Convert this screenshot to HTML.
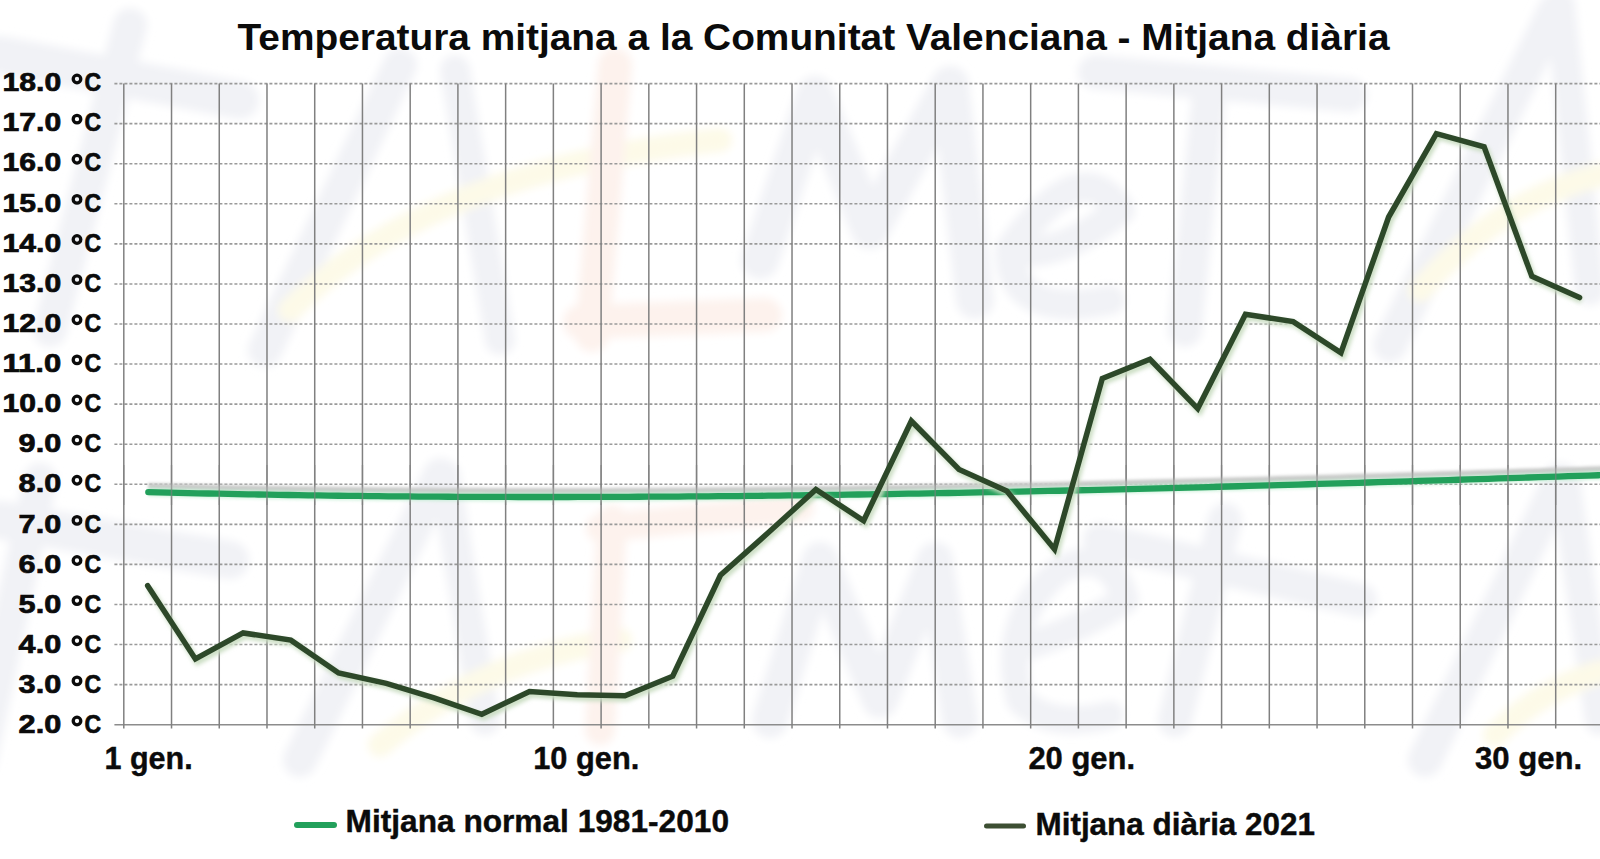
<!DOCTYPE html><html><head><meta charset="utf-8"><style>html,body{margin:0;padding:0;background:#fff;}svg{display:block;}text{font-family:"Liberation Sans",sans-serif;font-weight:bold;fill:#0b0b0b;}</style></head><body>
<svg width="1600" height="859" viewBox="0 0 1600 859">
<defs><filter id="wblur" filterUnits="userSpaceOnUse" x="-50" y="-50" width="1700" height="959"><feGaussianBlur stdDeviation="4"/></filter><filter id="blur2" filterUnits="userSpaceOnUse" x="-50" y="-50" width="1700" height="959"><feGaussianBlur stdDeviation="2"/></filter><filter id="blur1" filterUnits="userSpaceOnUse" x="-50" y="-50" width="1700" height="959"><feGaussianBlur stdDeviation="1.5"/></filter></defs>
<rect width="1600" height="859" fill="#fff"/>
<g filter="url(#wblur)" stroke-linecap="round" stroke-linejoin="round" fill="none">
<path d="M130,25 L50,330" stroke="#f1f2f6" stroke-width="34"/>
<path d="M0,55 L240,100" stroke="#f1f2f6" stroke-width="38"/>
<path d="M265,350 L400,65" stroke="#f1f2f6" stroke-width="34"/>
<path d="M455,70 L500,340" stroke="#f1f2f6" stroke-width="30"/>
<path d="M290,310 Q430,170 720,140" stroke="#fdfae8" stroke-width="24"/>
<path d="M615,65 L592,335" stroke="#fdf2ed" stroke-width="34"/>
<path d="M580,322 L765,315" stroke="#fdf2ed" stroke-width="34"/>
<path d="M760,260 L815,95 L870,230 L950,85 L975,300" stroke="#f1f2f6" stroke-width="38"/>
<path d="M1010,250 Q1080,150 1120,210 Q1060,260 1010,250 Q1010,320 1110,300" stroke="#f1f2f6" stroke-width="30"/>
<path d="M1095,72 L1350,95" stroke="#f1f2f6" stroke-width="34"/>
<path d="M1210,85 L1185,330" stroke="#f1f2f6" stroke-width="34"/>
<path d="M1390,345 L1555,10" stroke="#f1f2f6" stroke-width="34"/>
<path d="M1560,5 L1590,290" stroke="#f1f2f6" stroke-width="30"/>
<path d="M1420,290 Q1500,200 1600,175" stroke="#fdfae8" stroke-width="24"/>
<path d="M40,480 L-20,760" stroke="#f1f2f6" stroke-width="34"/>
<path d="M0,520 L230,560" stroke="#f1f2f6" stroke-width="38"/>
<path d="M300,760 L440,475" stroke="#f1f2f6" stroke-width="34"/>
<path d="M445,475 L485,720" stroke="#f1f2f6" stroke-width="30"/>
<path d="M380,745 Q480,660 620,640" stroke="#fdfae8" stroke-width="24"/>
<path d="M612,520 L600,730" stroke="#fdf2ed" stroke-width="30"/>
<path d="M600,528 L800,508" stroke="#fdf2ed" stroke-width="28"/>
<path d="M770,720 L820,560 L880,700 L935,560 L960,720" stroke="#f1f2f6" stroke-width="36"/>
<path d="M1100,540 L1360,600" stroke="#f1f2f6" stroke-width="34"/>
<path d="M1225,520 L1175,720" stroke="#f1f2f6" stroke-width="34"/>
<path d="M1425,760 L1560,480" stroke="#f1f2f6" stroke-width="34"/>
<path d="M1565,480 L1600,720" stroke="#f1f2f6" stroke-width="30"/>
<path d="M1495,735 Q1540,690 1600,672" stroke="#fdfae8" stroke-width="24"/>
<path d="M1015,650 Q1080,630 1125,600 Q1110,545 1060,570 Q1000,620 1020,700 Q1050,730 1110,715" stroke="#f1f2f6" stroke-width="28"/>
</g>
<line x1="114.4" y1="724.70" x2="1600" y2="724.70" stroke="#8c8c8c" stroke-width="1.6"/>
<line x1="114.4" y1="684.63" x2="1600" y2="684.63" stroke="#9a9a9a" stroke-width="1.6" stroke-dasharray="3 2"/>
<line x1="114.4" y1="644.56" x2="1600" y2="644.56" stroke="#9a9a9a" stroke-width="1.6" stroke-dasharray="3 2"/>
<line x1="114.4" y1="604.49" x2="1600" y2="604.49" stroke="#9a9a9a" stroke-width="1.6" stroke-dasharray="3 2"/>
<line x1="114.4" y1="564.42" x2="1600" y2="564.42" stroke="#9a9a9a" stroke-width="1.6" stroke-dasharray="3 2"/>
<line x1="114.4" y1="524.35" x2="1600" y2="524.35" stroke="#9a9a9a" stroke-width="1.6" stroke-dasharray="3 2"/>
<line x1="114.4" y1="484.28" x2="1600" y2="484.28" stroke="#9a9a9a" stroke-width="1.6" stroke-dasharray="3 2"/>
<line x1="114.4" y1="444.21" x2="1600" y2="444.21" stroke="#9a9a9a" stroke-width="1.6" stroke-dasharray="3 2"/>
<line x1="114.4" y1="404.14" x2="1600" y2="404.14" stroke="#9a9a9a" stroke-width="1.6" stroke-dasharray="3 2"/>
<line x1="114.4" y1="364.07" x2="1600" y2="364.07" stroke="#9a9a9a" stroke-width="1.6" stroke-dasharray="3 2"/>
<line x1="114.4" y1="324.00" x2="1600" y2="324.00" stroke="#9a9a9a" stroke-width="1.6" stroke-dasharray="3 2"/>
<line x1="114.4" y1="283.93" x2="1600" y2="283.93" stroke="#9a9a9a" stroke-width="1.6" stroke-dasharray="3 2"/>
<line x1="114.4" y1="243.86" x2="1600" y2="243.86" stroke="#9a9a9a" stroke-width="1.6" stroke-dasharray="3 2"/>
<line x1="114.4" y1="203.79" x2="1600" y2="203.79" stroke="#9a9a9a" stroke-width="1.6" stroke-dasharray="3 2"/>
<line x1="114.4" y1="163.72" x2="1600" y2="163.72" stroke="#9a9a9a" stroke-width="1.6" stroke-dasharray="3 2"/>
<line x1="114.4" y1="123.65" x2="1600" y2="123.65" stroke="#9a9a9a" stroke-width="1.6" stroke-dasharray="3 2"/>
<line x1="114.4" y1="83.58" x2="1600" y2="83.58" stroke="#9a9a9a" stroke-width="1.6" stroke-dasharray="3 2"/>
<line x1="123.80" y1="83.58" x2="123.80" y2="728.5" stroke="#808080" stroke-width="1.5"/>
<line x1="171.53" y1="83.58" x2="171.53" y2="728.5" stroke="#808080" stroke-width="1.5"/>
<line x1="219.26" y1="83.58" x2="219.26" y2="728.5" stroke="#808080" stroke-width="1.5"/>
<line x1="266.99" y1="83.58" x2="266.99" y2="728.5" stroke="#808080" stroke-width="1.5"/>
<line x1="314.72" y1="83.58" x2="314.72" y2="728.5" stroke="#808080" stroke-width="1.5"/>
<line x1="362.45" y1="83.58" x2="362.45" y2="728.5" stroke="#808080" stroke-width="1.5"/>
<line x1="410.18" y1="83.58" x2="410.18" y2="728.5" stroke="#808080" stroke-width="1.5"/>
<line x1="457.91" y1="83.58" x2="457.91" y2="728.5" stroke="#808080" stroke-width="1.5"/>
<line x1="505.64" y1="83.58" x2="505.64" y2="728.5" stroke="#808080" stroke-width="1.5"/>
<line x1="553.37" y1="83.58" x2="553.37" y2="728.5" stroke="#808080" stroke-width="1.5"/>
<line x1="601.10" y1="83.58" x2="601.10" y2="728.5" stroke="#808080" stroke-width="1.5"/>
<line x1="648.83" y1="83.58" x2="648.83" y2="728.5" stroke="#808080" stroke-width="1.5"/>
<line x1="696.56" y1="83.58" x2="696.56" y2="728.5" stroke="#808080" stroke-width="1.5"/>
<line x1="744.29" y1="83.58" x2="744.29" y2="728.5" stroke="#808080" stroke-width="1.5"/>
<line x1="792.02" y1="83.58" x2="792.02" y2="728.5" stroke="#808080" stroke-width="1.5"/>
<line x1="839.75" y1="83.58" x2="839.75" y2="728.5" stroke="#808080" stroke-width="1.5"/>
<line x1="887.48" y1="83.58" x2="887.48" y2="728.5" stroke="#808080" stroke-width="1.5"/>
<line x1="935.21" y1="83.58" x2="935.21" y2="728.5" stroke="#808080" stroke-width="1.5"/>
<line x1="982.94" y1="83.58" x2="982.94" y2="728.5" stroke="#808080" stroke-width="1.5"/>
<line x1="1030.67" y1="83.58" x2="1030.67" y2="728.5" stroke="#808080" stroke-width="1.5"/>
<line x1="1078.40" y1="83.58" x2="1078.40" y2="728.5" stroke="#808080" stroke-width="1.5"/>
<line x1="1126.13" y1="83.58" x2="1126.13" y2="728.5" stroke="#808080" stroke-width="1.5"/>
<line x1="1173.86" y1="83.58" x2="1173.86" y2="728.5" stroke="#808080" stroke-width="1.5"/>
<line x1="1221.59" y1="83.58" x2="1221.59" y2="728.5" stroke="#808080" stroke-width="1.5"/>
<line x1="1269.32" y1="83.58" x2="1269.32" y2="728.5" stroke="#808080" stroke-width="1.5"/>
<line x1="1317.05" y1="83.58" x2="1317.05" y2="728.5" stroke="#808080" stroke-width="1.5"/>
<line x1="1364.78" y1="83.58" x2="1364.78" y2="728.5" stroke="#808080" stroke-width="1.5"/>
<line x1="1412.51" y1="83.58" x2="1412.51" y2="728.5" stroke="#808080" stroke-width="1.5"/>
<line x1="1460.24" y1="83.58" x2="1460.24" y2="728.5" stroke="#808080" stroke-width="1.5"/>
<line x1="1507.97" y1="83.58" x2="1507.97" y2="728.5" stroke="#808080" stroke-width="1.5"/>
<line x1="1555.70" y1="83.58" x2="1555.70" y2="728.5" stroke="#808080" stroke-width="1.5"/>
<line x1="1603.43" y1="83.58" x2="1603.43" y2="728.5" stroke="#808080" stroke-width="1.5"/>
<path d="M148.3,492.08 L158.3,492.34 L168.3,492.59 L178.3,492.83 L188.3,493.06 L198.3,493.29 L208.3,493.51 L218.3,493.72 L228.3,493.93 L238.3,494.13 L248.3,494.32 L258.3,494.50 L268.3,494.68 L278.3,494.85 L288.3,495.01 L298.3,495.17 L308.3,495.32 L318.3,495.46 L328.3,495.60 L338.3,495.73 L348.3,495.85 L358.3,495.96 L368.3,496.07 L378.3,496.18 L388.3,496.28 L398.3,496.37 L408.3,496.45 L418.3,496.53 L428.3,496.60 L438.3,496.67 L448.3,496.73 L458.3,496.78 L468.3,496.83 L478.3,496.87 L488.3,496.91 L498.3,496.94 L508.3,496.96 L518.3,496.98 L528.3,496.99 L538.3,497.00 L548.3,497.00 L558.3,497.00 L568.3,496.99 L578.3,496.97 L588.3,496.95 L598.3,496.93 L608.3,496.90 L618.3,496.86 L628.3,496.82 L638.3,496.77 L648.3,496.72 L658.3,496.66 L668.3,496.60 L678.3,496.53 L688.3,496.46 L698.3,496.38 L708.3,496.30 L718.3,496.21 L728.3,496.12 L738.3,496.03 L748.3,495.92 L758.3,495.82 L768.3,495.71 L778.3,495.59 L788.3,495.47 L798.3,495.35 L808.3,495.22 L818.3,495.09 L828.3,494.95 L838.3,494.81 L848.3,494.67 L858.3,494.52 L868.3,494.36 L878.3,494.21 L888.3,494.05 L898.3,493.88 L908.3,493.71 L918.3,493.54 L928.3,493.36 L938.3,493.18 L948.3,492.99 L958.3,492.81 L968.3,492.61 L978.3,492.42 L988.3,492.22 L998.3,492.02 L1008.3,491.81 L1018.3,491.60 L1028.3,491.39 L1038.3,491.17 L1048.3,490.95 L1058.3,490.73 L1068.3,490.50 L1078.3,490.27 L1088.3,490.04 L1098.3,489.81 L1108.3,489.57 L1118.3,489.33 L1128.3,489.08 L1138.3,488.84 L1148.3,488.59 L1158.3,488.34 L1168.3,488.08 L1178.3,487.82 L1188.3,487.56 L1198.3,487.30 L1208.3,487.04 L1218.3,486.77 L1228.3,486.50 L1238.3,486.23 L1248.3,485.95 L1258.3,485.67 L1268.3,485.40 L1278.3,485.11 L1288.3,484.83 L1298.3,484.54 L1308.3,484.26 L1318.3,483.97 L1328.3,483.68 L1338.3,483.38 L1348.3,483.09 L1358.3,482.79 L1368.3,482.49 L1378.3,482.19 L1388.3,481.89 L1398.3,481.58 L1408.3,481.28 L1418.3,480.97 L1428.3,480.66 L1438.3,480.35 L1448.3,480.04 L1458.3,479.73 L1468.3,479.42 L1478.3,479.10 L1488.3,478.79 L1498.3,478.47 L1508.3,478.15 L1518.3,477.83 L1528.3,477.51 L1538.3,477.19 L1548.3,476.87 L1558.3,476.54 L1568.3,476.22 L1578.3,475.90 L1588.3,475.57 L1598.3,475.24 L1608.3,474.92" transform="translate(0,-6)" fill="none" stroke="#c9cac9" stroke-width="6" filter="url(#blur1)"/>
<path d="M148.3,492.08 L158.3,492.34 L168.3,492.59 L178.3,492.83 L188.3,493.06 L198.3,493.29 L208.3,493.51 L218.3,493.72 L228.3,493.93 L238.3,494.13 L248.3,494.32 L258.3,494.50 L268.3,494.68 L278.3,494.85 L288.3,495.01 L298.3,495.17 L308.3,495.32 L318.3,495.46 L328.3,495.60 L338.3,495.73 L348.3,495.85 L358.3,495.96 L368.3,496.07 L378.3,496.18 L388.3,496.28 L398.3,496.37 L408.3,496.45 L418.3,496.53 L428.3,496.60 L438.3,496.67 L448.3,496.73 L458.3,496.78 L468.3,496.83 L478.3,496.87 L488.3,496.91 L498.3,496.94 L508.3,496.96 L518.3,496.98 L528.3,496.99 L538.3,497.00 L548.3,497.00 L558.3,497.00 L568.3,496.99 L578.3,496.97 L588.3,496.95 L598.3,496.93 L608.3,496.90 L618.3,496.86 L628.3,496.82 L638.3,496.77 L648.3,496.72 L658.3,496.66 L668.3,496.60 L678.3,496.53 L688.3,496.46 L698.3,496.38 L708.3,496.30 L718.3,496.21 L728.3,496.12 L738.3,496.03 L748.3,495.92 L758.3,495.82 L768.3,495.71 L778.3,495.59 L788.3,495.47 L798.3,495.35 L808.3,495.22 L818.3,495.09 L828.3,494.95 L838.3,494.81 L848.3,494.67 L858.3,494.52 L868.3,494.36 L878.3,494.21 L888.3,494.05 L898.3,493.88 L908.3,493.71 L918.3,493.54 L928.3,493.36 L938.3,493.18 L948.3,492.99 L958.3,492.81 L968.3,492.61 L978.3,492.42 L988.3,492.22 L998.3,492.02 L1008.3,491.81 L1018.3,491.60 L1028.3,491.39 L1038.3,491.17 L1048.3,490.95 L1058.3,490.73 L1068.3,490.50 L1078.3,490.27 L1088.3,490.04 L1098.3,489.81 L1108.3,489.57 L1118.3,489.33 L1128.3,489.08 L1138.3,488.84 L1148.3,488.59 L1158.3,488.34 L1168.3,488.08 L1178.3,487.82 L1188.3,487.56 L1198.3,487.30 L1208.3,487.04 L1218.3,486.77 L1228.3,486.50 L1238.3,486.23 L1248.3,485.95 L1258.3,485.67 L1268.3,485.40 L1278.3,485.11 L1288.3,484.83 L1298.3,484.54 L1308.3,484.26 L1318.3,483.97 L1328.3,483.68 L1338.3,483.38 L1348.3,483.09 L1358.3,482.79 L1368.3,482.49 L1378.3,482.19 L1388.3,481.89 L1398.3,481.58 L1408.3,481.28 L1418.3,480.97 L1428.3,480.66 L1438.3,480.35 L1448.3,480.04 L1458.3,479.73 L1468.3,479.42 L1478.3,479.10 L1488.3,478.79 L1498.3,478.47 L1508.3,478.15 L1518.3,477.83 L1528.3,477.51 L1538.3,477.19 L1548.3,476.87 L1558.3,476.54 L1568.3,476.22 L1578.3,475.90 L1588.3,475.57 L1598.3,475.24 L1608.3,474.92" fill="none" stroke="#b5ebc9" stroke-width="9" opacity="0.6" filter="url(#blur1)"/>
<path d="M148.3,492.08 L158.3,492.34 L168.3,492.59 L178.3,492.83 L188.3,493.06 L198.3,493.29 L208.3,493.51 L218.3,493.72 L228.3,493.93 L238.3,494.13 L248.3,494.32 L258.3,494.50 L268.3,494.68 L278.3,494.85 L288.3,495.01 L298.3,495.17 L308.3,495.32 L318.3,495.46 L328.3,495.60 L338.3,495.73 L348.3,495.85 L358.3,495.96 L368.3,496.07 L378.3,496.18 L388.3,496.28 L398.3,496.37 L408.3,496.45 L418.3,496.53 L428.3,496.60 L438.3,496.67 L448.3,496.73 L458.3,496.78 L468.3,496.83 L478.3,496.87 L488.3,496.91 L498.3,496.94 L508.3,496.96 L518.3,496.98 L528.3,496.99 L538.3,497.00 L548.3,497.00 L558.3,497.00 L568.3,496.99 L578.3,496.97 L588.3,496.95 L598.3,496.93 L608.3,496.90 L618.3,496.86 L628.3,496.82 L638.3,496.77 L648.3,496.72 L658.3,496.66 L668.3,496.60 L678.3,496.53 L688.3,496.46 L698.3,496.38 L708.3,496.30 L718.3,496.21 L728.3,496.12 L738.3,496.03 L748.3,495.92 L758.3,495.82 L768.3,495.71 L778.3,495.59 L788.3,495.47 L798.3,495.35 L808.3,495.22 L818.3,495.09 L828.3,494.95 L838.3,494.81 L848.3,494.67 L858.3,494.52 L868.3,494.36 L878.3,494.21 L888.3,494.05 L898.3,493.88 L908.3,493.71 L918.3,493.54 L928.3,493.36 L938.3,493.18 L948.3,492.99 L958.3,492.81 L968.3,492.61 L978.3,492.42 L988.3,492.22 L998.3,492.02 L1008.3,491.81 L1018.3,491.60 L1028.3,491.39 L1038.3,491.17 L1048.3,490.95 L1058.3,490.73 L1068.3,490.50 L1078.3,490.27 L1088.3,490.04 L1098.3,489.81 L1108.3,489.57 L1118.3,489.33 L1128.3,489.08 L1138.3,488.84 L1148.3,488.59 L1158.3,488.34 L1168.3,488.08 L1178.3,487.82 L1188.3,487.56 L1198.3,487.30 L1208.3,487.04 L1218.3,486.77 L1228.3,486.50 L1238.3,486.23 L1248.3,485.95 L1258.3,485.67 L1268.3,485.40 L1278.3,485.11 L1288.3,484.83 L1298.3,484.54 L1308.3,484.26 L1318.3,483.97 L1328.3,483.68 L1338.3,483.38 L1348.3,483.09 L1358.3,482.79 L1368.3,482.49 L1378.3,482.19 L1388.3,481.89 L1398.3,481.58 L1408.3,481.28 L1418.3,480.97 L1428.3,480.66 L1438.3,480.35 L1448.3,480.04 L1458.3,479.73 L1468.3,479.42 L1478.3,479.10 L1488.3,478.79 L1498.3,478.47 L1508.3,478.15 L1518.3,477.83 L1528.3,477.51 L1538.3,477.19 L1548.3,476.87 L1558.3,476.54 L1568.3,476.22 L1578.3,475.90 L1588.3,475.57 L1598.3,475.24 L1608.3,474.92" fill="none" stroke="#22a05b" stroke-width="6.3" stroke-linecap="round"/>
<line x1="123.80" y1="465" x2="123.80" y2="505" stroke="#808080" stroke-width="1.5" opacity="0.6"/>
<line x1="171.53" y1="465" x2="171.53" y2="505" stroke="#808080" stroke-width="1.5" opacity="0.6"/>
<line x1="219.26" y1="465" x2="219.26" y2="505" stroke="#808080" stroke-width="1.5" opacity="0.6"/>
<line x1="266.99" y1="465" x2="266.99" y2="505" stroke="#808080" stroke-width="1.5" opacity="0.6"/>
<line x1="314.72" y1="465" x2="314.72" y2="505" stroke="#808080" stroke-width="1.5" opacity="0.6"/>
<line x1="362.45" y1="465" x2="362.45" y2="505" stroke="#808080" stroke-width="1.5" opacity="0.6"/>
<line x1="410.18" y1="465" x2="410.18" y2="505" stroke="#808080" stroke-width="1.5" opacity="0.6"/>
<line x1="457.91" y1="465" x2="457.91" y2="505" stroke="#808080" stroke-width="1.5" opacity="0.6"/>
<line x1="505.64" y1="465" x2="505.64" y2="505" stroke="#808080" stroke-width="1.5" opacity="0.6"/>
<line x1="553.37" y1="465" x2="553.37" y2="505" stroke="#808080" stroke-width="1.5" opacity="0.6"/>
<line x1="601.10" y1="465" x2="601.10" y2="505" stroke="#808080" stroke-width="1.5" opacity="0.6"/>
<line x1="648.83" y1="465" x2="648.83" y2="505" stroke="#808080" stroke-width="1.5" opacity="0.6"/>
<line x1="696.56" y1="465" x2="696.56" y2="505" stroke="#808080" stroke-width="1.5" opacity="0.6"/>
<line x1="744.29" y1="465" x2="744.29" y2="505" stroke="#808080" stroke-width="1.5" opacity="0.6"/>
<line x1="792.02" y1="465" x2="792.02" y2="505" stroke="#808080" stroke-width="1.5" opacity="0.6"/>
<line x1="839.75" y1="465" x2="839.75" y2="505" stroke="#808080" stroke-width="1.5" opacity="0.6"/>
<line x1="887.48" y1="465" x2="887.48" y2="505" stroke="#808080" stroke-width="1.5" opacity="0.6"/>
<line x1="935.21" y1="465" x2="935.21" y2="505" stroke="#808080" stroke-width="1.5" opacity="0.6"/>
<line x1="982.94" y1="465" x2="982.94" y2="505" stroke="#808080" stroke-width="1.5" opacity="0.6"/>
<line x1="1030.67" y1="465" x2="1030.67" y2="505" stroke="#808080" stroke-width="1.5" opacity="0.6"/>
<line x1="1078.40" y1="465" x2="1078.40" y2="505" stroke="#808080" stroke-width="1.5" opacity="0.6"/>
<line x1="1126.13" y1="465" x2="1126.13" y2="505" stroke="#808080" stroke-width="1.5" opacity="0.6"/>
<line x1="1173.86" y1="465" x2="1173.86" y2="505" stroke="#808080" stroke-width="1.5" opacity="0.6"/>
<line x1="1221.59" y1="465" x2="1221.59" y2="505" stroke="#808080" stroke-width="1.5" opacity="0.6"/>
<line x1="1269.32" y1="465" x2="1269.32" y2="505" stroke="#808080" stroke-width="1.5" opacity="0.6"/>
<line x1="1317.05" y1="465" x2="1317.05" y2="505" stroke="#808080" stroke-width="1.5" opacity="0.6"/>
<line x1="1364.78" y1="465" x2="1364.78" y2="505" stroke="#808080" stroke-width="1.5" opacity="0.6"/>
<line x1="1412.51" y1="465" x2="1412.51" y2="505" stroke="#808080" stroke-width="1.5" opacity="0.6"/>
<line x1="1460.24" y1="465" x2="1460.24" y2="505" stroke="#808080" stroke-width="1.5" opacity="0.6"/>
<line x1="1507.97" y1="465" x2="1507.97" y2="505" stroke="#808080" stroke-width="1.5" opacity="0.6"/>
<line x1="1555.70" y1="465" x2="1555.70" y2="505" stroke="#808080" stroke-width="1.5" opacity="0.6"/>
<line x1="1603.43" y1="465" x2="1603.43" y2="505" stroke="#808080" stroke-width="1.5" opacity="0.6"/>
<polyline points="147.66,585.66 195.39,658.99 243.12,632.94 290.85,640.15 338.58,673.01 386.31,683.43 434.05,697.85 481.77,714.28 529.50,691.44 577.23,694.65 624.96,695.85 672.69,676.22 720.42,575.24 768.15,532.76 815.88,489.49 863.61,520.74 911.34,420.97 959.07,469.45 1006.80,491.09 1054.53,549.19 1102.26,378.50 1149.99,359.26 1197.72,408.55 1245.45,314.38 1293.18,321.60 1340.91,352.85 1388.64,217.01 1436.37,133.67 1484.10,146.89 1531.83,276.32 1579.56,297.55" transform="translate(2,3)" fill="none" stroke="#c8dcc0" stroke-width="6" stroke-linejoin="miter" filter="url(#blur2)"/>
<polyline points="147.66,585.66 195.39,658.99 243.12,632.94 290.85,640.15 338.58,673.01 386.31,683.43 434.05,697.85 481.77,714.28 529.50,691.44 577.23,694.65 624.96,695.85 672.69,676.22 720.42,575.24 768.15,532.76 815.88,489.49 863.61,520.74 911.34,420.97 959.07,469.45 1006.80,491.09 1054.53,549.19 1102.26,378.50 1149.99,359.26 1197.72,408.55 1245.45,314.38 1293.18,321.60 1340.91,352.85 1388.64,217.01 1436.37,133.67 1484.10,146.89 1531.83,276.32 1579.56,297.55" fill="none" stroke="#2d4829" stroke-width="5.5" stroke-linejoin="miter" stroke-linecap="round"/>
<text x="237.5" y="50" font-size="36" textLength="1152" lengthAdjust="spacingAndGlyphs">Temperatura mitjana a la Comunitat Valenciana - Mitjana diària</text>
<text x="18.6" y="733.20" font-size="25" textLength="42.6" lengthAdjust="spacingAndGlyphs" stroke="#0b0b0b" stroke-width="0.7">2.0</text>
<circle cx="77" cy="721.00" r="3.8" fill="none" stroke="#0b0b0b" stroke-width="3.3"/>
<text x="84.6" y="733.20" font-size="25" textLength="16.6" lengthAdjust="spacingAndGlyphs" stroke="#0b0b0b" stroke-width="0.7">C</text>
<text x="18.6" y="693.08" font-size="25" textLength="42.6" lengthAdjust="spacingAndGlyphs" stroke="#0b0b0b" stroke-width="0.7">3.0</text>
<circle cx="77" cy="680.88" r="3.8" fill="none" stroke="#0b0b0b" stroke-width="3.3"/>
<text x="84.6" y="693.08" font-size="25" textLength="16.6" lengthAdjust="spacingAndGlyphs" stroke="#0b0b0b" stroke-width="0.7">C</text>
<text x="18.6" y="652.95" font-size="25" textLength="42.6" lengthAdjust="spacingAndGlyphs" stroke="#0b0b0b" stroke-width="0.7">4.0</text>
<circle cx="77" cy="640.75" r="3.8" fill="none" stroke="#0b0b0b" stroke-width="3.3"/>
<text x="84.6" y="652.95" font-size="25" textLength="16.6" lengthAdjust="spacingAndGlyphs" stroke="#0b0b0b" stroke-width="0.7">C</text>
<text x="18.6" y="612.83" font-size="25" textLength="42.6" lengthAdjust="spacingAndGlyphs" stroke="#0b0b0b" stroke-width="0.7">5.0</text>
<circle cx="77" cy="600.62" r="3.8" fill="none" stroke="#0b0b0b" stroke-width="3.3"/>
<text x="84.6" y="612.83" font-size="25" textLength="16.6" lengthAdjust="spacingAndGlyphs" stroke="#0b0b0b" stroke-width="0.7">C</text>
<text x="18.6" y="572.70" font-size="25" textLength="42.6" lengthAdjust="spacingAndGlyphs" stroke="#0b0b0b" stroke-width="0.7">6.0</text>
<circle cx="77" cy="560.50" r="3.8" fill="none" stroke="#0b0b0b" stroke-width="3.3"/>
<text x="84.6" y="572.70" font-size="25" textLength="16.6" lengthAdjust="spacingAndGlyphs" stroke="#0b0b0b" stroke-width="0.7">C</text>
<text x="18.6" y="532.58" font-size="25" textLength="42.6" lengthAdjust="spacingAndGlyphs" stroke="#0b0b0b" stroke-width="0.7">7.0</text>
<circle cx="77" cy="520.38" r="3.8" fill="none" stroke="#0b0b0b" stroke-width="3.3"/>
<text x="84.6" y="532.58" font-size="25" textLength="16.6" lengthAdjust="spacingAndGlyphs" stroke="#0b0b0b" stroke-width="0.7">C</text>
<text x="18.6" y="492.45" font-size="25" textLength="42.6" lengthAdjust="spacingAndGlyphs" stroke="#0b0b0b" stroke-width="0.7">8.0</text>
<circle cx="77" cy="480.25" r="3.8" fill="none" stroke="#0b0b0b" stroke-width="3.3"/>
<text x="84.6" y="492.45" font-size="25" textLength="16.6" lengthAdjust="spacingAndGlyphs" stroke="#0b0b0b" stroke-width="0.7">C</text>
<text x="18.6" y="452.33" font-size="25" textLength="42.6" lengthAdjust="spacingAndGlyphs" stroke="#0b0b0b" stroke-width="0.7">9.0</text>
<circle cx="77" cy="440.13" r="3.8" fill="none" stroke="#0b0b0b" stroke-width="3.3"/>
<text x="84.6" y="452.33" font-size="25" textLength="16.6" lengthAdjust="spacingAndGlyphs" stroke="#0b0b0b" stroke-width="0.7">C</text>
<text x="2.6" y="412.20" font-size="25" textLength="58.6" lengthAdjust="spacingAndGlyphs" stroke="#0b0b0b" stroke-width="0.7">10.0</text>
<circle cx="77" cy="400.00" r="3.8" fill="none" stroke="#0b0b0b" stroke-width="3.3"/>
<text x="84.6" y="412.20" font-size="25" textLength="16.6" lengthAdjust="spacingAndGlyphs" stroke="#0b0b0b" stroke-width="0.7">C</text>
<text x="2.6" y="372.08" font-size="25" textLength="58.6" lengthAdjust="spacingAndGlyphs" stroke="#0b0b0b" stroke-width="0.7">11.0</text>
<circle cx="77" cy="359.88" r="3.8" fill="none" stroke="#0b0b0b" stroke-width="3.3"/>
<text x="84.6" y="372.08" font-size="25" textLength="16.6" lengthAdjust="spacingAndGlyphs" stroke="#0b0b0b" stroke-width="0.7">C</text>
<text x="2.6" y="331.95" font-size="25" textLength="58.6" lengthAdjust="spacingAndGlyphs" stroke="#0b0b0b" stroke-width="0.7">12.0</text>
<circle cx="77" cy="319.75" r="3.8" fill="none" stroke="#0b0b0b" stroke-width="3.3"/>
<text x="84.6" y="331.95" font-size="25" textLength="16.6" lengthAdjust="spacingAndGlyphs" stroke="#0b0b0b" stroke-width="0.7">C</text>
<text x="2.6" y="291.83" font-size="25" textLength="58.6" lengthAdjust="spacingAndGlyphs" stroke="#0b0b0b" stroke-width="0.7">13.0</text>
<circle cx="77" cy="279.63" r="3.8" fill="none" stroke="#0b0b0b" stroke-width="3.3"/>
<text x="84.6" y="291.83" font-size="25" textLength="16.6" lengthAdjust="spacingAndGlyphs" stroke="#0b0b0b" stroke-width="0.7">C</text>
<text x="2.6" y="251.70" font-size="25" textLength="58.6" lengthAdjust="spacingAndGlyphs" stroke="#0b0b0b" stroke-width="0.7">14.0</text>
<circle cx="77" cy="239.50" r="3.8" fill="none" stroke="#0b0b0b" stroke-width="3.3"/>
<text x="84.6" y="251.70" font-size="25" textLength="16.6" lengthAdjust="spacingAndGlyphs" stroke="#0b0b0b" stroke-width="0.7">C</text>
<text x="2.6" y="211.58" font-size="25" textLength="58.6" lengthAdjust="spacingAndGlyphs" stroke="#0b0b0b" stroke-width="0.7">15.0</text>
<circle cx="77" cy="199.38" r="3.8" fill="none" stroke="#0b0b0b" stroke-width="3.3"/>
<text x="84.6" y="211.58" font-size="25" textLength="16.6" lengthAdjust="spacingAndGlyphs" stroke="#0b0b0b" stroke-width="0.7">C</text>
<text x="2.6" y="171.45" font-size="25" textLength="58.6" lengthAdjust="spacingAndGlyphs" stroke="#0b0b0b" stroke-width="0.7">16.0</text>
<circle cx="77" cy="159.25" r="3.8" fill="none" stroke="#0b0b0b" stroke-width="3.3"/>
<text x="84.6" y="171.45" font-size="25" textLength="16.6" lengthAdjust="spacingAndGlyphs" stroke="#0b0b0b" stroke-width="0.7">C</text>
<text x="2.6" y="131.33" font-size="25" textLength="58.6" lengthAdjust="spacingAndGlyphs" stroke="#0b0b0b" stroke-width="0.7">17.0</text>
<circle cx="77" cy="119.13" r="3.8" fill="none" stroke="#0b0b0b" stroke-width="3.3"/>
<text x="84.6" y="131.33" font-size="25" textLength="16.6" lengthAdjust="spacingAndGlyphs" stroke="#0b0b0b" stroke-width="0.7">C</text>
<text x="2.6" y="91.20" font-size="25" textLength="58.6" lengthAdjust="spacingAndGlyphs" stroke="#0b0b0b" stroke-width="0.7">18.0</text>
<circle cx="77" cy="79.00" r="3.8" fill="none" stroke="#0b0b0b" stroke-width="3.3"/>
<text x="84.6" y="91.20" font-size="25" textLength="16.6" lengthAdjust="spacingAndGlyphs" stroke="#0b0b0b" stroke-width="0.7">C</text>
<text x="104.5" y="768.9" font-size="31" textLength="88.2" lengthAdjust="spacingAndGlyphs" stroke="#0b0b0b" stroke-width="0.4">1 gen.</text>
<text x="533.2" y="768.9" font-size="31" textLength="106.1" lengthAdjust="spacingAndGlyphs" stroke="#0b0b0b" stroke-width="0.4">10 gen.</text>
<text x="1028.4" y="768.9" font-size="31" textLength="106.7" lengthAdjust="spacingAndGlyphs" stroke="#0b0b0b" stroke-width="0.4">20 gen.</text>
<text x="1475.0" y="768.9" font-size="31" textLength="107.2" lengthAdjust="spacingAndGlyphs" stroke="#0b0b0b" stroke-width="0.4">30 gen.</text>
<line x1="297" y1="825" x2="334" y2="825" stroke="#22a05b" stroke-width="6" stroke-linecap="round"/>
<text x="345.6" y="831.9" font-size="31" textLength="383.4" lengthAdjust="spacingAndGlyphs" stroke="#0b0b0b" stroke-width="0.4">Mitjana normal 1981-2010</text>
<line x1="986.5" y1="826" x2="1023.5" y2="826" stroke="#3d4f33" stroke-width="5" stroke-linecap="round"/>
<text x="1035.5" y="834.9" font-size="31" textLength="279.5" lengthAdjust="spacingAndGlyphs" stroke="#0b0b0b" stroke-width="0.4">Mitjana diària 2021</text>
</svg></body></html>
